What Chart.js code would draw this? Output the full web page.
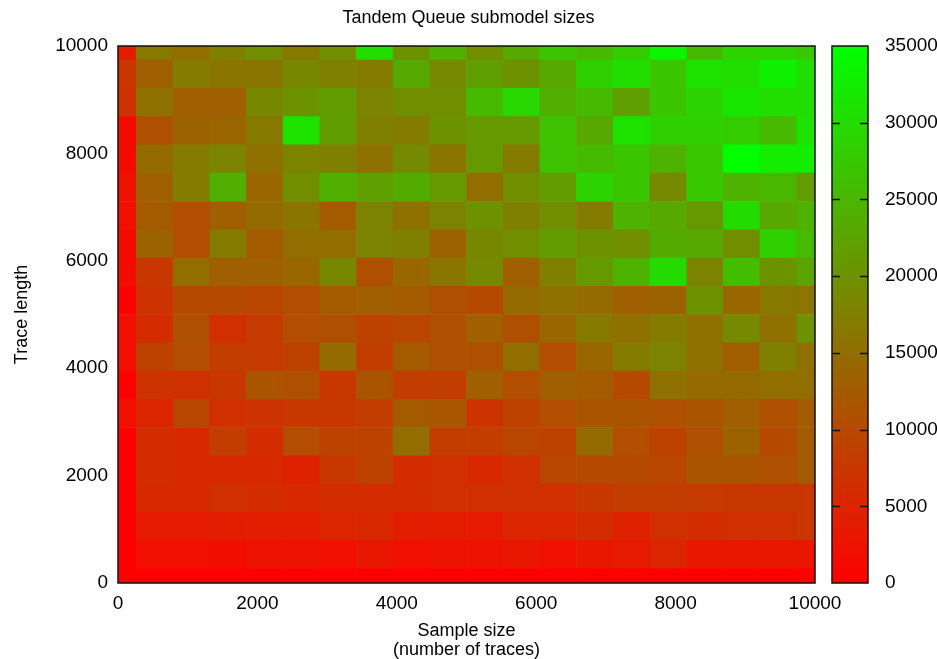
<!DOCTYPE html>
<html><head><meta charset="utf-8">
<script src="https://cdn.jsdelivr.net/npm/chart.js@4/dist/chart.umd.min.js"></script>
<style>html,body{margin:0;padding:0;background:#fff}#wrap{width:937px;height:659px}</style>
</head><body><div id="wrap"><canvas id="c" width="937" height="659"></canvas></div>
<script>
// Sample sizes (x, number of traces) and trace lengths (y) of the grid cells
const sampleSizes  = [0,526,1053,1579,2105,2632,3158,3684,4211,4737,5263,5789,6316,6842,7368,7895,8421,8947,9474,10000];
const traceLengths = [0,526,1053,1579,2105,2632,3158,3684,4211,4737,5263,5789,6316,6842,7368,7895,8421,8947,9474,10000];
const xTickValues = [0,2000,4000,6000,8000,10000];
const yTickValues = [0,2000,4000,6000,8000,10000];
const colorTickValues = [0,5000,10000,15000,20000,25000,30000,35000];
const colorMax = 35000;

// Submodel sizes, one array per trace length (t00 = length 0 ... t19 = length 10000), left to right by sample size
const t00 = [0,0,0,0,0,0,0,0,0,0,0,0,0,0,0,0,0,0,0,0];
const t01 = [0,2000,2000,1800,2500,2500,2000,3000,2000,2500,2500,3000,2200,3000,3500,5000,3000,3000,3000,3000];
const t02 = [0,3500,3500,4000,4000,4000,5000,5500,4000,3800,3500,5000,5000,6000,4500,6500,6000,6500,6500,7500];
const t03 = [0,5500,5500,6500,6000,5500,6000,6000,6000,6500,6500,6500,6500,7500,8500,8500,8000,7500,7500,7500];
const t04 = [0,6000,5500,5500,5500,4500,7500,9000,6000,6500,5500,6500,9500,10000,10000,9500,11500,11500,11000,12500];
const t05 = [0,6000,5500,8500,6000,10500,9000,9000,15000,8500,8500,9500,9000,14500,10500,9000,11000,13500,10000,12500];
const t06 = [2000,5000,9500,6500,7000,7500,7500,8500,12500,12000,7000,9000,10500,11500,11500,11000,11500,13000,11000,12500];
const t07 = [0,7000,6500,7500,11500,11000,7500,11500,8500,8500,13000,10500,13000,12500,10000,15500,14500,14500,15000,15000];
const t08 = [2000,9000,10500,8500,8000,9000,14500,8500,12500,11000,11000,15000,10500,14000,17000,18000,15500,13000,17500,15500];
const t09 = [2000,6000,11000,6500,8000,10500,11000,9000,9500,11000,13000,11000,14000,16500,15500,17000,15500,19000,15500,20000];
const t10 = [0,7000,10000,10000,9500,10500,12500,13000,12500,11000,10000,14500,15500,14500,13000,13500,20000,14000,16500,16000];
const t11 = [1500,7500,15000,13000,13000,14000,18500,11000,14000,16000,19000,13000,17500,21000,24500,30000,18000,26000,20000,22500];
const t12 = [1500,13500,10500,17000,12500,15000,15000,18000,17500,13500,18500,19500,21500,20000,19500,23500,23000,19500,28500,25500];
const t13 = [2000,12500,10500,13000,14500,16000,12500,18000,15500,18000,20000,17500,19500,17000,24500,23000,21000,30000,23000,24500];
const t14 = [2500,13000,17000,24000,14000,19500,24000,22000,23500,21000,15000,19500,21500,29000,27000,19000,27500,24500,25000,21500];
const t15 = [1500,14500,17000,18000,15500,18000,17500,15500,19000,16000,21000,17000,26500,25500,27000,24500,27500,35000,32500,32500];
const t16 = [1500,11000,13500,14000,16500,31000,21500,17500,17000,20000,21000,21000,26500,23000,31000,28500,28500,28000,25500,31000];
const t17 = [7000,15500,13000,13000,18500,20000,21500,18000,19500,19500,25500,29500,24000,25500,22000,27000,29000,31500,30500,30500];
const t18 = [7500,13000,17000,16000,16000,18500,17500,17000,23000,19000,22000,20000,23000,28500,30500,27000,31000,30500,33000,30500];
const t19 = [4000,16500,15000,17500,19500,16500,19500,30500,20000,24000,19500,23000,27000,25500,28000,33500,25500,29000,29000,27500];
const sizeRows = [t00,t01,t02,t03,t04,t05,t06,t07,t08,t09,t10,t11,t12,t13,t14,t15,t16,t17,t18,t19];

const FONT = "'Liberation Sans', Arial, Helvetica, sans-serif";

function colorFor(v) {
  const t = Math.max(0, Math.min(1, v / colorMax));
  return 'rgb(' + Math.round(255 * (1 - t)) + ',' + Math.round(255 * t) + ',0)';
}

const xMin = sampleSizes[0], xMax = sampleSizes[sampleSizes.length - 1];
const yMin = traceLengths[0], yMax = traceLengths[traceLengths.length - 1];

const datasets = sizeRows.map((row, i) => {
  const lo = i === 0 ? yMin : (traceLengths[i - 1] + traceLengths[i]) / 2;
  const hi = i === traceLengths.length - 1 ? yMax : (traceLengths[i] + traceLengths[i + 1]) / 2;
  return {
    label: 'length ' + traceLengths[i],
    data: sampleSizes.map((x) => ({ x: x, y: [lo, hi] })),
    backgroundColor: row.map(colorFor),
    borderWidth: 0,
    grouped: false,
    barPercentage: 1,
    categoryPercentage: 1,
    clip: 0,
    xAxisID: 'x',
    yAxisID: 'y'
  };
});

const CB_GAP = 17, CB_W = 36, CB_LABEL_OFFSET = 70, CB_TICK = 8;

const framePlugin = {
  id: 'frameAndColorbar',
  afterLayout(chart) {
    // place colour-box tick labels to the right of the colour box
    const cb = chart.scales.cb;
    cb.left = chart.chartArea.right + CB_LABEL_OFFSET;
  },
  afterDatasetsDraw(chart) {
    const ctx = chart.ctx;
    const a = chart.chartArea;
    ctx.save();
    ctx.strokeStyle = '#111';
    ctx.lineWidth = 1.5;
    ctx.strokeRect(a.left, a.top, a.right - a.left, a.bottom - a.top);
    // colour box
    const cb = chart.scales.cb;
    const bx0 = a.right + CB_GAP, bx1 = a.right + CB_GAP + CB_W;
    const yTop = cb.getPixelForValue(colorMax), yBot = cb.getPixelForValue(0);
    const g = ctx.createLinearGradient(0, yBot, 0, yTop);
    for (let s = 0; s <= 20; s++) {
      g.addColorStop(s / 20, colorFor(colorMax * s / 20));
    }
    ctx.fillStyle = g;
    ctx.fillRect(bx0, yTop, bx1 - bx0, yBot - yTop);
    ctx.strokeRect(bx0, yTop, bx1 - bx0, yBot - yTop);
    ctx.lineWidth = 1.3;
    colorTickValues.forEach((v) => {
      if (v === 0 || v === colorMax) return;
      const y = Math.round(cb.getPixelForValue(v)) + 0.5;
      ctx.beginPath();
      ctx.moveTo(bx0, y); ctx.lineTo(bx0 + CB_TICK, y);
      ctx.moveTo(bx1 - CB_TICK, y); ctx.lineTo(bx1, y);
      ctx.stroke();
    });
    ctx.restore();
  }
};

const tickFont = { family: FONT, size: 19 };
const titleFont = { family: FONT, size: 18, lineHeight: 1.05 };
const plainLabel = (v) => String(v);

new Chart(document.getElementById('c'), {
  type: 'bar',
  data: { datasets: datasets },
  plugins: [framePlugin],
  options: {
    responsive: false,
    animation: false,
    devicePixelRatio: 1,
    layout: { padding: 0 },
    plugins: {
      legend: { display: false },
      tooltip: { enabled: false },
      title: {
        display: true,
        text: 'Tandem Queue submodel sizes',
        color: '#000',
        font: { family: FONT, size: 18, weight: 'normal', lineHeight: 1.2 },
        padding: { top: 7, bottom: 17.4 }
      }
    },
    scales: {
      x: {
        type: 'linear', position: 'bottom', min: xMin, max: xMax, offset: false,
        afterBuildTicks: (s) => { s.ticks = xTickValues.map((v) => ({ value: v })); },
        ticks: { font: tickFont, color: '#000', padding: 9, maxRotation: 0, autoSkip: false, callback: plainLabel },
        grid: { display: false, drawTicks: false },
        border: { display: false },
        title: { display: true, text: ['Sample size', '(number of traces)'], color: '#000', font: titleFont, padding: { top: 0, bottom: 0 } },
        afterFit: (s) => { s.height = 76; }
      },
      y: {
        type: 'linear', position: 'left', min: yMin, max: yMax,
        afterBuildTicks: (s) => { s.ticks = yTickValues.map((v) => ({ value: v })); },
        ticks: { font: tickFont, color: '#000', padding: 10, autoSkip: false, callback: plainLabel },
        grid: { display: false, drawTicks: false },
        border: { display: false },
        title: { display: true, text: 'Trace length', color: '#000', font: { family: FONT, size: 18, lineHeight: 1.2 }, padding: { top: 11, bottom: 0 } },
        afterFit: (s) => { s.width = 118; }
      },
      cb: {
        type: 'linear', position: 'right', min: 0, max: colorMax,
        afterBuildTicks: (s) => { s.ticks = colorTickValues.map((v) => ({ value: v })); },
        ticks: { font: tickFont, color: '#000', padding: 0, autoSkip: false, callback: plainLabel },
        grid: { display: false, drawTicks: false, drawOnChartArea: false },
        border: { display: false },
        afterFit: (s) => { s.width = 122; }
      }
    }
  }
});
</script>
</body></html>
